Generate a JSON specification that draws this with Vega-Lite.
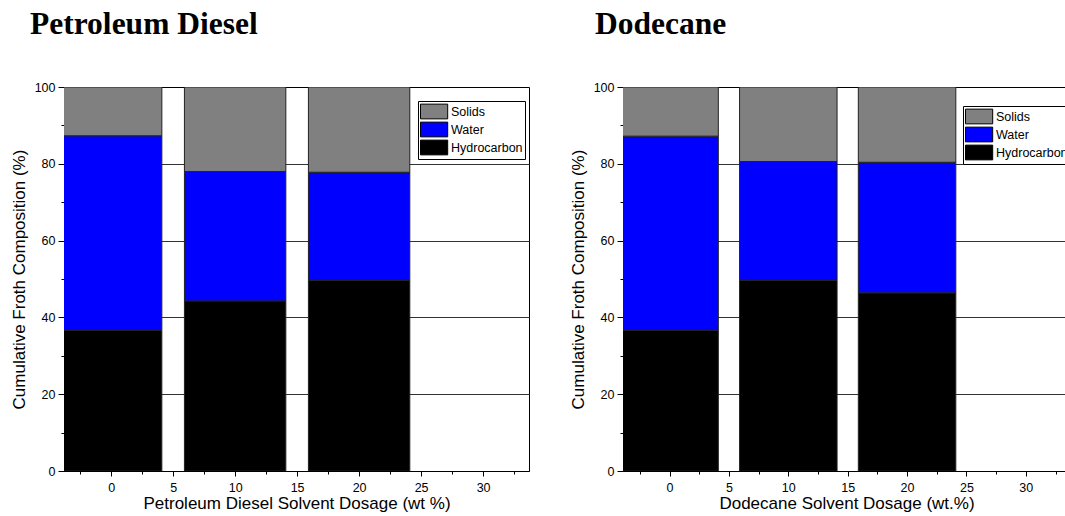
{
  "$schema": "https://vega.github.io/schema/vega-lite/v6.json",
  "padding": {"left": 9, "top": 8, "right": -6, "bottom": 0},
  "background": "white",
  "datasets": {
    "diesel": [
      {"dose": 0, "component": "Hydrocarbon", "lower": 0, "upper": 36.6},
      {"dose": 0, "component": "Water", "lower": 36.6, "upper": 87.3},
      {"dose": 0, "component": "Solids", "lower": 87.3, "upper": 100},
      {"dose": 10, "component": "Hydrocarbon", "lower": 0, "upper": 44.3},
      {"dose": 10, "component": "Water", "lower": 44.3, "upper": 78.0},
      {"dose": 10, "component": "Solids", "lower": 78.0, "upper": 100},
      {"dose": 20, "component": "Hydrocarbon", "lower": 0, "upper": 49.6},
      {"dose": 20, "component": "Water", "lower": 49.6, "upper": 77.8},
      {"dose": 20, "component": "Solids", "lower": 77.8, "upper": 100}
    ],
    "dodecane": [
      {"dose": 0, "component": "Hydrocarbon", "lower": 0, "upper": 36.6},
      {"dose": 0, "component": "Water", "lower": 36.6, "upper": 87.2},
      {"dose": 0, "component": "Solids", "lower": 87.2, "upper": 100},
      {"dose": 10, "component": "Hydrocarbon", "lower": 0, "upper": 49.6},
      {"dose": 10, "component": "Water", "lower": 49.6, "upper": 80.6},
      {"dose": 10, "component": "Solids", "lower": 80.6, "upper": 100},
      {"dose": 20, "component": "Hydrocarbon", "lower": 0, "upper": 46.4},
      {"dose": 20, "component": "Water", "lower": 46.4, "upper": 80.4},
      {"dose": 20, "component": "Solids", "lower": 80.4, "upper": 100}
    ]
  },
  "spacing": 38,
  "hconcat": [
    {
      "width": 465,
      "height": 384,
      "title": {"text": "Petroleum Diesel", "anchor": "start", "frame": "group", "dx": -34, "offset": 16, "baseline": "alphabetic", "font": "Liberation Serif", "fontSize": 31.5, "fontWeight": "bold", "color": "black"},
      "data": {"name": "diesel"},
      "mark": {"type": "bar", "width": 101.4, "clip": true, "stroke": "#222222", "strokeWidth": 1},
      "encoding": {
        "x": {
          "field": "dose", "type": "quantitative",
          "scale": {"domain": [-3.4, 33.3], "nice": false, "zero": false},
          "axis": {
            "title": "Petroleum Diesel Solvent Dosage (wt %)",
            "values": [-2.5, 0, 2.5, 5, 7.5, 10, 12.5, 15, 17.5, 20, 22.5, 25, 27.5, 30, 32.5],
            "labelExpr": "datum.value % 5 === 0 ? datum.label : ''",
            "tickSize": {"condition": {"test": "datum.value % 5 !== 0", "value": 3}, "value": 5},
            "grid": false, "labelFlush": false, "labelOverlap": false,
            "labelPadding": 5, "titleY": 37, "titleBaseline": "alphabetic"
          }
        },
        "y": {
          "field": "upper", "type": "quantitative",
          "scale": {"domain": [0, 100], "nice": false},
          "axis": {
            "title": "Cumulative Froth Composition (%)",
            "values": [0, 10, 20, 30, 40, 50, 60, 70, 80, 90, 100],
            "labelExpr": "datum.value % 20 === 0 ? datum.label : ''",
            "tickSize": {"condition": {"test": "datum.value % 20 !== 0", "value": 3}, "value": 6},
            "grid": true,
            "gridOpacity": {"condition": {"test": "datum.value % 20 === 0 && datum.value > 0 && datum.value < 100", "value": 1}, "value": 0},
            "labelOverlap": false, "labelPadding": 3,
            "titleX": -40, "titleBaseline": "alphabetic"
          }
        },
        "y2": {"field": "lower"},
        "color": {
          "field": "component", "type": "nominal",
          "scale": {"domain": ["Solids", "Water", "Hydrocarbon"], "range": ["#808080", "#0000ff", "#000000"]},
          "legend": {
            "orient": "none", "legendX": 354, "legendY": 14, "title": null,
            "strokeColor": "black", "fillColor": "white", "padding": 2,
            "symbolType": "M-1,-0.92L2.4,-0.92L2.4,0.92L-1,0.92Z", "symbolSize": 256,
            "symbolStrokeColor": "black", "symbolStrokeWidth": 1, "symbolOpacity": 1,
            "labelFontSize": 12.5, "labelOffset": 14, "rowPadding": -4
          }
        }
      }
    },
    {
      "width": 447,
      "height": 384,
      "title": {"text": "Dodecane", "anchor": "start", "frame": "group", "dx": -28, "offset": 16, "baseline": "alphabetic", "font": "Liberation Serif", "fontSize": 31.5, "fontWeight": "bold", "color": "black"},
      "data": {"name": "dodecane"},
      "mark": {"type": "bar", "width": 97.5, "clip": true, "stroke": "#222222", "strokeWidth": 1},
      "encoding": {
        "x": {
          "field": "dose", "type": "quantitative",
          "scale": {"domain": [-3.5, 33.3], "nice": false, "zero": false},
          "axis": {
            "title": "Dodecane Solvent Dosage (wt.%)",
            "values": [-2.5, 0, 2.5, 5, 7.5, 10, 12.5, 15, 17.5, 20, 22.5, 25, 27.5, 30, 32.5],
            "labelExpr": "datum.value % 5 === 0 ? datum.label : ''",
            "tickSize": {"condition": {"test": "datum.value % 5 !== 0", "value": 3}, "value": 5},
            "grid": false, "labelFlush": false, "labelOverlap": false,
            "labelPadding": 5, "titleY": 37, "titleBaseline": "alphabetic"
          }
        },
        "y": {
          "field": "upper", "type": "quantitative",
          "scale": {"domain": [0, 100], "nice": false},
          "axis": {
            "title": "Cumulative Froth Composition (%)",
            "values": [0, 10, 20, 30, 40, 50, 60, 70, 80, 90, 100],
            "labelExpr": "datum.value % 20 === 0 ? datum.label : ''",
            "tickSize": {"condition": {"test": "datum.value % 20 !== 0", "value": 3}, "value": 6},
            "grid": true,
            "gridOpacity": {"condition": {"test": "datum.value % 20 === 0 && datum.value > 0 && datum.value < 100", "value": 1}, "value": 0},
            "labelOverlap": false, "labelPadding": 3,
            "titleX": -40, "titleBaseline": "alphabetic"
          }
        },
        "y2": {"field": "lower"},
        "color": {
          "field": "component", "type": "nominal",
          "scale": {"domain": ["Solids", "Water", "Hydrocarbon"], "range": ["#808080", "#0000ff", "#000000"]},
          "legend": {
            "orient": "none", "legendX": 340, "legendY": 19, "title": null,
            "strokeColor": "black", "fillColor": "white", "padding": 2,
            "symbolType": "M-1,-0.92L2.4,-0.92L2.4,0.92L-1,0.92Z", "symbolSize": 256,
            "symbolStrokeColor": "black", "symbolStrokeWidth": 1, "symbolOpacity": 1,
            "labelFontSize": 12.5, "labelOffset": 14, "rowPadding": -4
          }
        }
      }
    }
  ],
  "resolve": {"scale": {"color": "independent"}, "legend": {"color": "independent"}},
  "config": {
    "view": {"stroke": "black", "strokeWidth": 1},
    "axis": {
      "domainColor": "black", "tickColor": "black", "labelColor": "black", "titleColor": "black",
      "labelFont": "Liberation Sans", "titleFont": "Liberation Sans", "titleFontWeight": "normal",
      "labelFontSize": 12.5, "titleFontSize": 17, "gridColor": "#333333", "gridWidth": 1
    },
    "legend": {"labelFont": "Liberation Sans", "labelColor": "black"}
  }
}
